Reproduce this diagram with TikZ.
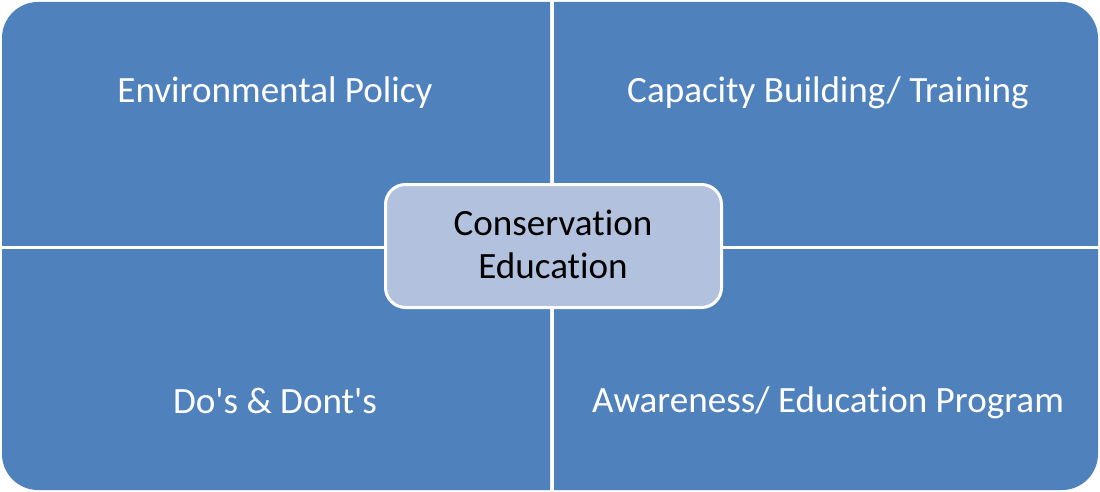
\documentclass[tikz,border=0pt]{standalone}
\usepackage{fontspec}
\setmainfont{Carlito}[Ligatures={NoCommon},RawFeature={-liga}]
\definecolor{quadblue}{HTML}{4F81BD}
\definecolor{centerfill}{HTML}{B2C2DE}
\begin{document}
\begin{tikzpicture}[x=1pt,y=-1pt,
  quad/.style={fill=quadblue},
  qlabel/.style={text=white,font=\fontsize{37.1}{43}\selectfont,anchor=base,inner sep=0pt},
  centerbox/.style={draw=white,line width=3pt,fill=centerfill,rounded corners=20pt},
  clabel/.style={text=black,font=\fontsize{37.1}{43}\selectfont,anchor=base,inner sep=0pt}]
\useasboundingbox (0,0) rectangle (1100,492);
% quadrants
\begin{scope}
  \clip (0,0) rectangle (550,245);
  \fill[quad,rounded corners=36pt] (2,2) rectangle (1098,490);
\end{scope}
\begin{scope}
  \clip (554,0) rectangle (1100,245);
  \fill[quad,rounded corners=36pt] (2,2) rectangle (1098,490);
\end{scope}
\begin{scope}
  \clip (0,249) rectangle (550,492);
  \fill[quad,rounded corners=36pt] (2,2) rectangle (1098,490);
\end{scope}
\begin{scope}
  \clip (554,249) rectangle (1100,492);
  \fill[quad,rounded corners=36pt] (2,2) rectangle (1098,490);
\end{scope}
% labels
\node[qlabel] (policy) at (275,103) {Environmental Policy};
\node[qlabel] (capacity) at (828,103) {Capacity Building/ Training};
\node[qlabel] (dos) at (275,413) {Do\textquotesingle s \& Dont\textquotesingle s};
\node[qlabel] (awareness) at (828,412) {Awareness/ Education Program};
% center
\draw[centerbox] (385.5,184.5) rectangle (721.5,307.5);
\node[clabel] (cons) at (553,235) {Conservation};
\node[clabel] (edu) at (553,278) {Education};
\end{tikzpicture}
\end{document}
